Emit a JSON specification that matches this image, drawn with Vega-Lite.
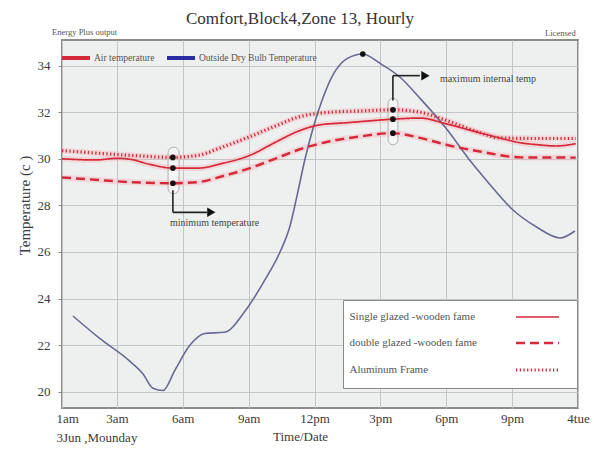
{
  "$schema": "https://vega.github.io/schema/vega-lite/v6.json",
  "width": 516,
  "height": 368,
  "autosize": {"type": "none"},
  "padding": {"left": 62, "top": 40, "right": 16, "bottom": 41},
  "background": "white",
  "title": {"text": "Comfort,Block4,Zone 13, Hourly", "font": "Liberation Serif", "fontSize": 17, "fontWeight": "normal", "color": "#333333", "anchor": "middle", "dx": -20, "offset": 0},
  "config": {
    "font": "Liberation Serif",
    "view": {"fill": "#eef0ef", "stroke": "#8c8c8c", "strokeWidth": 2},
    "axis": {"gridColor": "#c3c6c6", "gridOpacity": 1, "gridWidth": 1, "domain": false, "labelFont": "Liberation Serif", "labelColor": "#3a3a3a", "labelFontSize": 13, "titleFont": "Liberation Serif", "titleFontWeight": "normal", "titleColor": "#3a3a3a"},
    "legend": {"labelFont": "Liberation Serif"}
  },
  "datasets": {
    "air": [
      {"frame": "Single glazed -wooden fame", "hour": 0.5, "temp": 30.0},
      {"frame": "Single glazed -wooden fame", "hour": 2.0, "temp": 29.95},
      {"frame": "Single glazed -wooden fame", "hour": 3.0, "temp": 30.02},
      {"frame": "Single glazed -wooden fame", "hour": 3.6, "temp": 29.98},
      {"frame": "Single glazed -wooden fame", "hour": 4.5, "temp": 29.76},
      {"frame": "Single glazed -wooden fame", "hour": 5.55, "temp": 29.6},
      {"frame": "Single glazed -wooden fame", "hour": 6.7, "temp": 29.6},
      {"frame": "Single glazed -wooden fame", "hour": 7.8, "temp": 29.8},
      {"frame": "Single glazed -wooden fame", "hour": 9.06, "temp": 30.15},
      {"frame": "Single glazed -wooden fame", "hour": 10.2, "temp": 30.7},
      {"frame": "Single glazed -wooden fame", "hour": 11.3, "temp": 31.2},
      {"frame": "Single glazed -wooden fame", "hour": 12.2, "temp": 31.45},
      {"frame": "Single glazed -wooden fame", "hour": 13.5, "temp": 31.55},
      {"frame": "Single glazed -wooden fame", "hour": 15.57, "temp": 31.7},
      {"frame": "Single glazed -wooden fame", "hour": 16.8, "temp": 31.75},
      {"frame": "Single glazed -wooden fame", "hour": 18.0, "temp": 31.5},
      {"frame": "Single glazed -wooden fame", "hour": 19.2, "temp": 31.2},
      {"frame": "Single glazed -wooden fame", "hour": 20.4, "temp": 30.9},
      {"frame": "Single glazed -wooden fame", "hour": 21.3, "temp": 30.7},
      {"frame": "Single glazed -wooden fame", "hour": 22.2, "temp": 30.6},
      {"frame": "Single glazed -wooden fame", "hour": 23.0, "temp": 30.55},
      {"frame": "Single glazed -wooden fame", "hour": 23.9, "temp": 30.65},
      {"frame": "double glazed -wooden fame", "hour": 0.5, "temp": 29.2},
      {"frame": "double glazed -wooden fame", "hour": 2.0, "temp": 29.1},
      {"frame": "double glazed -wooden fame", "hour": 3.6, "temp": 29.0},
      {"frame": "double glazed -wooden fame", "hour": 5.55, "temp": 28.95},
      {"frame": "double glazed -wooden fame", "hour": 6.7, "temp": 29.0},
      {"frame": "double glazed -wooden fame", "hour": 7.8, "temp": 29.25},
      {"frame": "double glazed -wooden fame", "hour": 9.06, "temp": 29.6},
      {"frame": "double glazed -wooden fame", "hour": 10.2, "temp": 30.0},
      {"frame": "double glazed -wooden fame", "hour": 11.3, "temp": 30.4},
      {"frame": "double glazed -wooden fame", "hour": 12.7, "temp": 30.75},
      {"frame": "double glazed -wooden fame", "hour": 14.0, "temp": 30.95},
      {"frame": "double glazed -wooden fame", "hour": 15.57, "temp": 31.1},
      {"frame": "double glazed -wooden fame", "hour": 16.8, "temp": 30.9},
      {"frame": "double glazed -wooden fame", "hour": 18.0, "temp": 30.6},
      {"frame": "double glazed -wooden fame", "hour": 19.6, "temp": 30.3},
      {"frame": "double glazed -wooden fame", "hour": 21.4, "temp": 30.06},
      {"frame": "double glazed -wooden fame", "hour": 23.9, "temp": 30.05},
      {"frame": "Aluminum Frame", "hour": 0.5, "temp": 30.35},
      {"frame": "Aluminum Frame", "hour": 2.0, "temp": 30.25},
      {"frame": "Aluminum Frame", "hour": 3.6, "temp": 30.15},
      {"frame": "Aluminum Frame", "hour": 5.55, "temp": 30.06},
      {"frame": "Aluminum Frame", "hour": 6.7, "temp": 30.15},
      {"frame": "Aluminum Frame", "hour": 7.8, "temp": 30.5},
      {"frame": "Aluminum Frame", "hour": 9.06, "temp": 30.95},
      {"frame": "Aluminum Frame", "hour": 10.2, "temp": 31.4},
      {"frame": "Aluminum Frame", "hour": 11.3, "temp": 31.8},
      {"frame": "Aluminum Frame", "hour": 12.7, "temp": 32.0},
      {"frame": "Aluminum Frame", "hour": 14.0, "temp": 32.05},
      {"frame": "Aluminum Frame", "hour": 15.57, "temp": 32.1},
      {"frame": "Aluminum Frame", "hour": 16.8, "temp": 32.0},
      {"frame": "Aluminum Frame", "hour": 18.0, "temp": 31.65},
      {"frame": "Aluminum Frame", "hour": 19.6, "temp": 31.1},
      {"frame": "Aluminum Frame", "hour": 20.4, "temp": 30.9},
      {"frame": "Aluminum Frame", "hour": 22.2, "temp": 30.87},
      {"frame": "Aluminum Frame", "hour": 23.9, "temp": 30.87}
    ],
    "outside": [
      {"hour": 1.0, "temp": 23.25}, {"hour": 2.2, "temp": 22.3}, {"hour": 3.6, "temp": 21.3},
      {"hour": 4.2, "temp": 20.75}, {"hour": 4.64, "temp": 20.15}, {"hour": 5.1, "temp": 20.05},
      {"hour": 5.65, "temp": 20.94}, {"hour": 6.33, "temp": 22.0}, {"hour": 7.0, "temp": 22.5},
      {"hour": 7.9, "temp": 22.55}, {"hour": 8.83, "temp": 23.45}, {"hour": 9.74, "temp": 24.8},
      {"hour": 10.43, "temp": 26.0}, {"hour": 10.88, "temp": 27.1}, {"hour": 11.2, "temp": 28.4},
      {"hour": 11.57, "temp": 30.0}, {"hour": 11.93, "temp": 31.3}, {"hour": 12.34, "temp": 32.5},
      {"hour": 12.84, "temp": 33.6}, {"hour": 13.48, "temp": 34.3}, {"hour": 14.2, "temp": 34.5},
      {"hour": 14.98, "temp": 34.1}, {"hour": 15.9, "temp": 33.5}, {"hour": 16.8, "temp": 32.6},
      {"hour": 18.0, "temp": 31.3}, {"hour": 19.1, "temp": 29.9}, {"hour": 19.85, "temp": 29.05},
      {"hour": 21.04, "temp": 27.8}, {"hour": 22.13, "temp": 27.06}, {"hour": 23.18, "temp": 26.6},
      {"hour": 23.86, "temp": 26.9}
    ],
    "dots": [
      {"hour": 5.55, "temp": 30.06}, {"hour": 5.55, "temp": 29.6}, {"hour": 5.55, "temp": 28.95},
      {"hour": 15.57, "temp": 32.1}, {"hour": 15.57, "temp": 31.7}, {"hour": 15.57, "temp": 31.1},
      {"hour": 14.2, "temp": 34.5}
    ],
    "ovals": [
      {"hour": 5.33, "hour2": 5.83, "temp": 30.5, "temp2": 28.5},
      {"hour": 15.35, "hour2": 15.8, "temp": 32.6, "temp2": 30.6}
    ],
    "arrows": [
      {"hour": 5.55, "hour2": 5.55, "temp": 28.65, "temp2": 27.7},
      {"hour": 5.55, "hour2": 7.1, "temp": 27.7, "temp2": 27.7},
      {"hour": 15.57, "hour2": 15.57, "temp": 32.5, "temp2": 33.57},
      {"hour": 15.57, "hour2": 16.8, "temp": 33.57, "temp2": 33.57}
    ],
    "heads": [
      {"hour": 7.3, "temp": 27.7}, {"hour": 17.05, "temp": 33.57}
    ],
    "notes": [
      {"hour": 5.42, "temp": 27.23, "label": "minimum temperature"},
      {"hour": 17.71, "temp": 33.44, "label": "maximum internal temp"}
    ],
    "header": [
      {"hour": 0.05, "temp": 35.45, "label": "Energy Plus output"},
      {"hour": 22.5, "temp": 35.4, "label": "Licensed"}
    ]
  },
  "encoding": {
    "x": {
      "field": "hour", "type": "quantitative",
      "scale": {"domain": [0.5, 24], "nice": false, "zero": false},
      "axis": {
        "title": "Time/Date", "titleFontSize": 13, "titleX": 238, "titleY": 22, "titleBaseline": "top", "titleAlign": "center",
        "values": [0.5, 3, 6, 9, 12, 15, 18, 21, 24],
        "labelExpr": "datum.value < 1 ? ['1am', '3Jun ,Mounday'] : datum.value == 3 ? '3am' : datum.value == 6 ? '6am' : datum.value == 9 ? '9am' : datum.value == 12 ? '12pm' : datum.value == 15 ? '3pm' : datum.value == 18 ? '6pm' : datum.value == 21 ? '9pm' : '4tue'",
        "labelAlign": {"condition": {"test": "datum.value < 1", "value": "left"}, "value": "center"},
        "labelOffset": {"condition": {"test": "datum.value < 1", "value": -6}, "value": 0},
        "labelLineHeight": 19, "labelBaseline": "top", "labelOverlap": false, "labelFlush": false, "labelBound": false,
        "tickSize": 0, "labelPadding": 4, "grid": true
      }
    },
    "y": {
      "field": "temp", "type": "quantitative",
      "scale": {"domain": [19.3, 35.1], "nice": false, "zero": false},
      "axis": {
        "title": "Temperature (c )", "titleFontSize": 15, "titleX": -30, "titleY": 165,
        "values": [20, 22, 24, 26, 28, 30, 32, 34],
        "tickSize": 4, "tickColor": "#888888", "labelPadding": 8, "grid": true
      }
    }
  },
  "layer": [
    {
      "data": {"name": "ovals"},
      "mark": {"type": "rect", "cornerRadius": 6, "fill": "#ffffff", "fillOpacity": 0.35, "stroke": "#b0b0b0", "strokeWidth": 1},
      "encoding": {"x2": {"field": "hour2"}, "y2": {"field": "temp2"}}
    },
    {
      "data": {"name": "air"},
      "mark": {"type": "line", "interpolate": "monotone", "stroke": "#f4b3bb", "strokeWidth": 6, "opacity": 0.4},
      "encoding": {"detail": {"field": "frame", "type": "nominal"}}
    },
    {
      "data": {"name": "outside"},
      "mark": {"type": "line", "interpolate": "monotone", "stroke": "#676a95", "strokeWidth": 1.6},
      "encoding": {}
    },
    {
      "data": {"name": "air"},
      "mark": {"type": "line", "interpolate": "monotone"},
      "encoding": {
        "color": {
          "datum": "Air temperature",
          "scale": {"domain": ["Air temperature", "Outside Dry Bulb Temperature"], "range": ["#d42a3a", "#2a2ca6"]},
          "legend": {"title": null, "orient": "none", "legendX": -2, "legendY": 2, "direction": "horizontal", "symbolType": "stroke", "symbolSize": 784, "symbolStrokeWidth": 4, "labelFontSize": 9.5, "labelColor": "#555555", "columnPadding": 4, "padding": 0, "labelOffset": 2}
        },
        "strokeDash": {
          "field": "frame", "type": "nominal",
          "scale": {"domain": ["Single glazed -wooden fame", "double glazed -wooden fame", "Aluminum Frame"], "range": [[1, 0], [9, 5], [1.3, 2.4]]},
          "legend": {
            "title": null, "orient": "none", "legendX": 281, "legendY": 260,
            "fillColor": "white", "strokeColor": "#8a8a8a", "padding": 11, "rowPadding": 14.5,
            "labelFontSize": 11, "labelColor": "#555555", "labelLimit": 220,
            "symbolType": "M 31,0 H 39.6", "symbolSize": 100, "symbolStrokeWidth": 2.5, "symbolStrokeColor": "#d42a3a",
            "labelOffset": -18.5
          }
        },
        "strokeWidth": {
          "field": "frame", "type": "nominal",
          "scale": {"domain": ["Single glazed -wooden fame", "double glazed -wooden fame", "Aluminum Frame"], "range": [1.7, 3.2, 1.6]},
          "legend": null
        }
      }
    },
    {
      "data": {"name": "dots"},
      "mark": {"type": "point", "filled": true, "color": "#111111", "size": 32, "opacity": 1}
    },
    {
      "data": {"name": "arrows"},
      "mark": {"type": "rule", "color": "#222222", "strokeWidth": 1.6},
      "encoding": {"x2": {"field": "hour2"}, "y2": {"field": "temp2"}}
    },
    {
      "data": {"name": "heads"},
      "mark": {"type": "point", "shape": "triangle-right", "filled": true, "color": "#111111", "size": 90, "opacity": 1}
    },
    {
      "data": {"name": "notes"},
      "mark": {"type": "text", "align": "left", "baseline": "middle", "font": "Liberation Serif", "fontSize": 10, "color": "#444444"},
      "encoding": {"text": {"field": "label"}}
    },
    {
      "data": {"name": "header"},
      "mark": {"type": "text", "align": "left", "baseline": "middle", "font": "Liberation Serif", "fontSize": 8.5, "color": "#555555"},
      "encoding": {"text": {"field": "label"}}
    }
  ]
}
